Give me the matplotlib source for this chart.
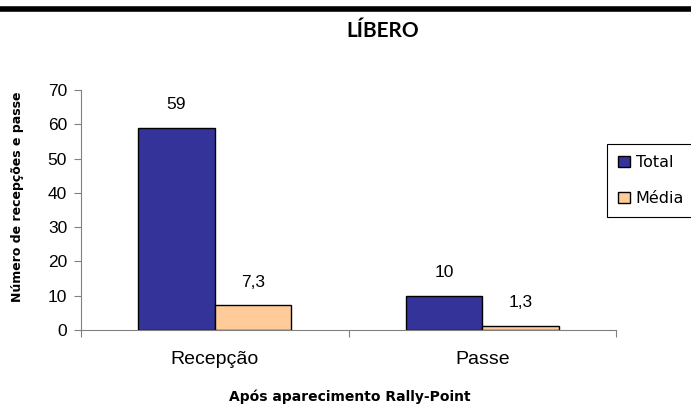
import matplotlib
matplotlib.use("Agg")
import matplotlib.pyplot as plt
from matplotlib.lines import Line2D
import numpy as np

categories = ["Recepção", "Passe"]
series_names = ["Total", "Média"]
total = [59, 10]
media = [7.3, 1.3]
colors = ["#333399", "#FFCC99"]

fig = plt.figure(figsize=(6.91, 4.05), dpi=100)
ax = fig.add_axes([81/691, 1-330/405, (616-81)/691, 240/405])

x = np.arange(len(categories))
w = 0.2857
for i, (vals, name, c) in enumerate(zip([total, media], series_names, colors)):
    pos = x + (i - 0.5) * w
    bars = ax.bar(pos, vals, w, color=c, edgecolor="black", linewidth=1.0, label=name)
    for b, v in zip(bars, vals):
        txt = f"{v:g}".replace(".", ",")
        ax.annotate(txt, (b.get_x() + b.get_width()/2, v), xytext=(0, 11),
                    textcoords="offset points", ha="center", va="bottom",
                    fontsize=12.5, family="Liberation Sans")

ax.set_xlim(-0.5, 1.5)
ax.set_ylim(0, 70)
ax.set_yticks(range(0, 71, 10))
ax.set_xticks([-0.5, 0.5, 1.5])
ax.set_xticklabels([])
ax.set_xticks(x, minor=True)
ax.set_xticklabels(categories, minor=True, fontsize=14, family="Liberation Sans")
ax.tick_params(axis="x", which="minor", length=0, pad=15)
ax.tick_params(axis="x", which="major", length=5, direction="out", color="#808080")
ax.tick_params(axis="y", length=5, direction="out", color="#808080", labelsize=12.5, pad=5)
for lab in ax.get_yticklabels():
    lab.set_family("Liberation Sans")
for s in ["top", "right"]:
    ax.spines[s].set_visible(False)
for s in ["left", "bottom"]:
    ax.spines[s].set_color("#808080")

ax.set_xlabel("Após aparecimento Rally-Point", fontsize=10, fontweight="bold", family="DejaVu Sans")
ax.xaxis.set_label_coords((350-81)/535, -(397-330)/240)
ax.xaxis.label.set_va("center")
ax.set_ylabel("Número de recepções e passe", fontsize=9, fontweight="bold", family="DejaVu Sans")
ax.yaxis.set_label_coords((18-81)/535, (330-197)/240)
ax.yaxis.label.set_va("center")

fig.text(383/691, 1-31/405, "LÍBERO", ha="center", va="center", fontsize=15, fontweight="bold", family="Lato")
fig.add_artist(Line2D([0, 1], [1-8.5/405, 1-8.5/405], color="black", linewidth=4, transform=fig.transFigure))

leg = fig.legend(loc="upper left", bbox_to_anchor=(607/691, 1-144/405), fancybox=False,
                 edgecolor="black", framealpha=1, handlelength=0.75, handleheight=0.75,
                 handletextpad=0.35, borderpad=0.7, borderaxespad=0, labelspacing=1.3,
                 prop={"family": "DejaVu Sans", "size": 11.5})
leg.get_frame().set_linewidth(0.8)

fig.savefig("out.png", dpi=100)
